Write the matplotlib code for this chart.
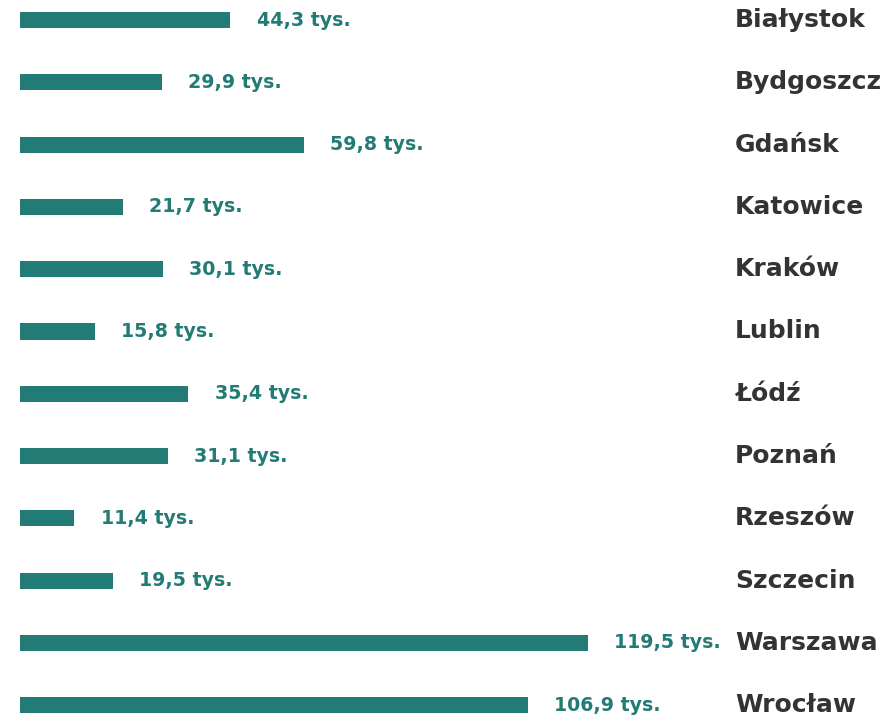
import matplotlib.pyplot as plt
from matplotlib.transforms import blended_transform_factory

cities = ['Białystok', 'Bydgoszcz', 'Gdańsk', 'Katowice', 'Kraków', 'Lublin',
          'Łódź', 'Poznań', 'Rzeszów', 'Szczecin', 'Warszawa', 'Wrocław']
values = [44.3, 29.9, 59.8, 21.7, 30.1, 15.8, 35.4, 31.1, 11.4, 19.5, 119.5, 106.9]

BAR = '#237b75'
TEXT = '#333333'
FONT = 'DejaVu Sans'

fig = plt.figure(figsize=(8.9, 7.15), dpi=100)
ax = fig.add_axes([0, 0, 1, 1])

ys = list(range(len(cities)))
ax.barh(ys, values, height=0.257, color=BAR)

for y, v, city in zip(ys, values, cities):
    label = f'{v:.1f}'.replace('.', ',') + ' tys.'
    ax.annotate(label, (v, y), xytext=(19, 0), textcoords='offset points',
                va='center', ha='left', fontsize=13.7, fontweight='bold',
                color=BAR, family=FONT)
    ax.text(0.826, y, city, transform=blended_transform_factory(ax.transAxes, ax.transData),
            va='center', ha='left', fontsize=18, fontweight='bold',
            color=TEXT, family=FONT)

ax.set_xlim(-20 / 4.75, 870 / 4.75)
ax.set_ylim((715 - 20) / 62.3, -20 / 62.3)
ax.axis('off')

plt.savefig('out.png', dpi=100)
plt.close()
